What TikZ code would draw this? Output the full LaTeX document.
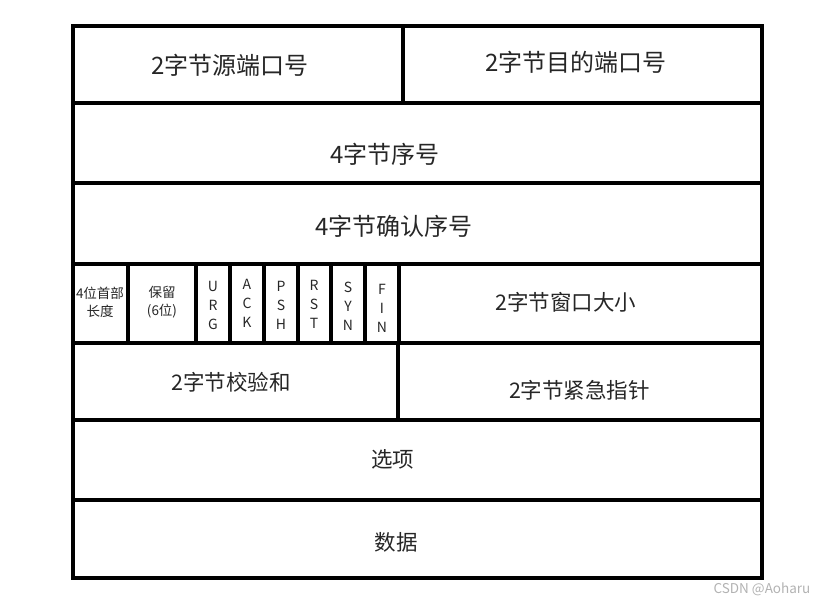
\documentclass[tikz,border=0pt]{standalone}
\usepackage{fontspec}
\setmainfont{Noto Sans CJK SC}
\usepackage{tikz}

\begin{document}
\begin{tikzpicture}[x=1pt, y=-1pt,
    every node/.style={text=black!85},
    grid/.style={line width=4pt},
    big/.style={font=\fontsize{24}{28}\selectfont},
    mid/.style={font=\fontsize{21.5}{26}\selectfont},
    small/.style={font=\fontsize{13.5}{18}\selectfont, align=center},
    flag/.style={font=\fontsize{14}{19}\selectfont, align=center}]
      \useasboundingbox (0,0) rectangle (825,603);
      % outer frame and rows
      \draw[grid] (73,26) rectangle (762,578);
      \foreach \y in {103,183,264,342.5,420,500}
        \draw[grid] (73,\y) -- (762,\y);
      % row 1 split
      \draw[grid] (403,26) -- (403,103);
      % flag cells
      \foreach \x in {128,196,230,264,297.5,331,365,399}
        \draw[grid] (\x,264) -- (\x,342.5);
      % row 5 split
      \draw[grid] (398,342.5) -- (398,420);
      % row 1
      \node[big] (srcport) at (230,65) {2字节源端口号};
      \node[big] (dstport) at (576,62) {2字节目的端口号};
      % row 2, 3
      \node[big] (seq) at (385,154) {4字节序号};
      \node[big] (ack) at (394,226.5) {4字节确认序号};
      % row 4
      \node[small] (hlen) at (100,302) {4位首部\\长度};
      \node[small] (rsv) at (162,302) {保留\\(6位)};
      \node[flag] (urg) at (213,305) {U\\R\\G};
      \node[flag] (ackf) at (247,303) {A\\C\\K};
      \node[flag] (psh) at (281,305) {P\\S\\H};
      \node[flag] (rst) at (314,304) {R\\S\\T};
      \node[flag] (syn) at (348,306) {S\\Y\\N};
      \node[flag] (fin) at (382,308) {F\\I\\N};
      \node[mid] (win) at (566,302.5) {2字节窗口大小};
      % row 5
      \node[mid] (csum) at (231,382.5) {2字节校验和};
      \node[mid] (urgp) at (579.5,390) {2字节紧急指针};
      % row 6, 7
      \node[mid] (opt) at (392.5,459) {选项};
      \node[mid] (data) at (396,542) {数据};
      % watermark
      \node[font=\fontsize{13.5}{16}\selectfont, text=black!30] (mark) at (762,589) {CSDN @Aoharu};
    \end{tikzpicture}
\end{document}
